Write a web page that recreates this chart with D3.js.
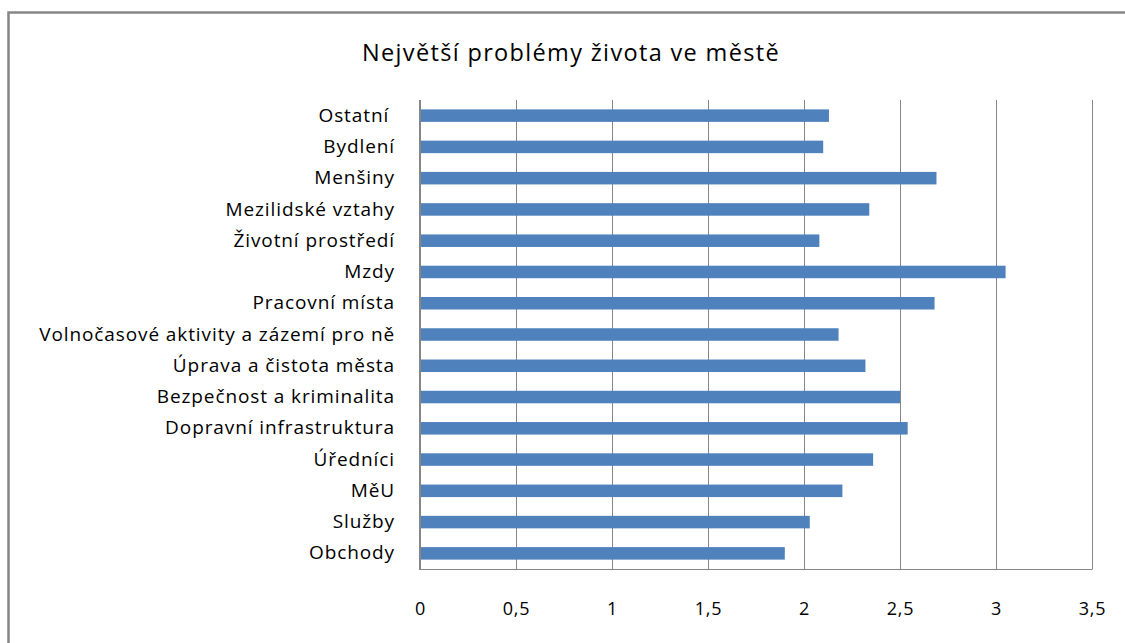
<!DOCTYPE html>
<html><head><meta charset="utf-8">
<script src="https://cdn.jsdelivr.net/npm/d3@7"></script>
<style>
html,body{margin:0;padding:0;background:#fff;}
svg{display:block;}
text{font-family:"Open Sans",sans-serif;fill:#000;}
</style></head>
<body>
<script>
const title = "Největší problémy života ve městě";
const categories = ["Ostatní ","Bydlení","Menšiny","Mezilidské vztahy","Životní prostředí","Mzdy","Pracovní místa","Volnočasové aktivity a zázemí pro ně","Úprava a čistota města","Bezpečnost a kriminalita","Dopravní infrastruktura","Úředníci","MěU","Služby","Obchody"];
const values = [2.13,2.10,2.69,2.34,2.08,3.05,2.68,2.18,2.32,2.50,2.54,2.36,2.20,2.03,1.90];
const xTicks = [0,0.5,1,1.5,2,2.5,3,3.5];
const xMax = 3.5;

const W = 1125, H = 643;
const plot = {left:420, right:1092, top:100, bottom:569};

const svg = d3.select("body").append("svg").attr("width",W).attr("height",H);

svg.append("path").attr("d",`M8.5,${H+2} V12.5 H${W+2}`)
  .attr("fill","none").attr("stroke","#868686").attr("stroke-width",2.5);

const t = svg.append("text").attr("x",571).attr("y",61).attr("text-anchor","middle")
  .style("font-size","23.5px").text(title);
const tw = t.node().getComputedTextLength();
t.style("letter-spacing", Math.max(0,(418 - tw) / title.length) + "px");

const x = d3.scaleLinear().domain([0,xMax]).range([plot.left,plot.right]);
const y = d3.scaleBand().domain(categories).range([plot.top,plot.bottom])
  .paddingInner(0.6).paddingOuter(0.3);

svg.append("g").selectAll("line").data(xTicks.slice(1)).join("line")
  .attr("x1",d=>Math.round(x(d))+0.5).attr("x2",d=>Math.round(x(d))+0.5)
  .attr("y1",plot.top).attr("y2",plot.bottom)
  .attr("stroke","#868686").attr("stroke-width",1);
svg.append("line").attr("x1",plot.left).attr("x2",plot.right+0.5)
  .attr("y1",plot.bottom+0.5).attr("y2",plot.bottom+0.5)
  .attr("stroke","#868686").attr("stroke-width",1);

svg.append("g").selectAll("rect").data(categories).join("rect")
  .attr("x",x(0)).attr("y",d=>y(d))
  .attr("width",(d,i)=>x(values[i])-x(0)).attr("height",y.bandwidth())
  .attr("fill","#4F81BD");

svg.append("line").attr("x1",plot.left).attr("x2",plot.left)
  .attr("y1",plot.top).attr("y2",plot.bottom+1)
  .attr("stroke","#868686").attr("stroke-width",2);

const xAxis = d3.axisBottom(x).tickValues(xTicks).tickSize(0).tickPadding(0)
  .tickFormat(d=>String(d).replace(".",","));
const gx = svg.append("g").attr("transform",`translate(0,${plot.bottom+33})`).call(xAxis);
gx.select(".domain").remove();
gx.selectAll("text").style("font-size","18px").style("letter-spacing","0.8px")
  .attr("font-family",null).attr("fill","#000");

const yAxis = d3.axisLeft(y).tickSize(0).tickPadding(25);
const gy = svg.append("g").attr("transform",`translate(${plot.left},0)`).call(yAxis);
gy.select(".domain").remove();
gy.selectAll("text").style("font-size","19px").style("letter-spacing","0.9px")
  .attr("font-family",null).attr("fill","#000").style("white-space","pre");
</script>
</body></html>
